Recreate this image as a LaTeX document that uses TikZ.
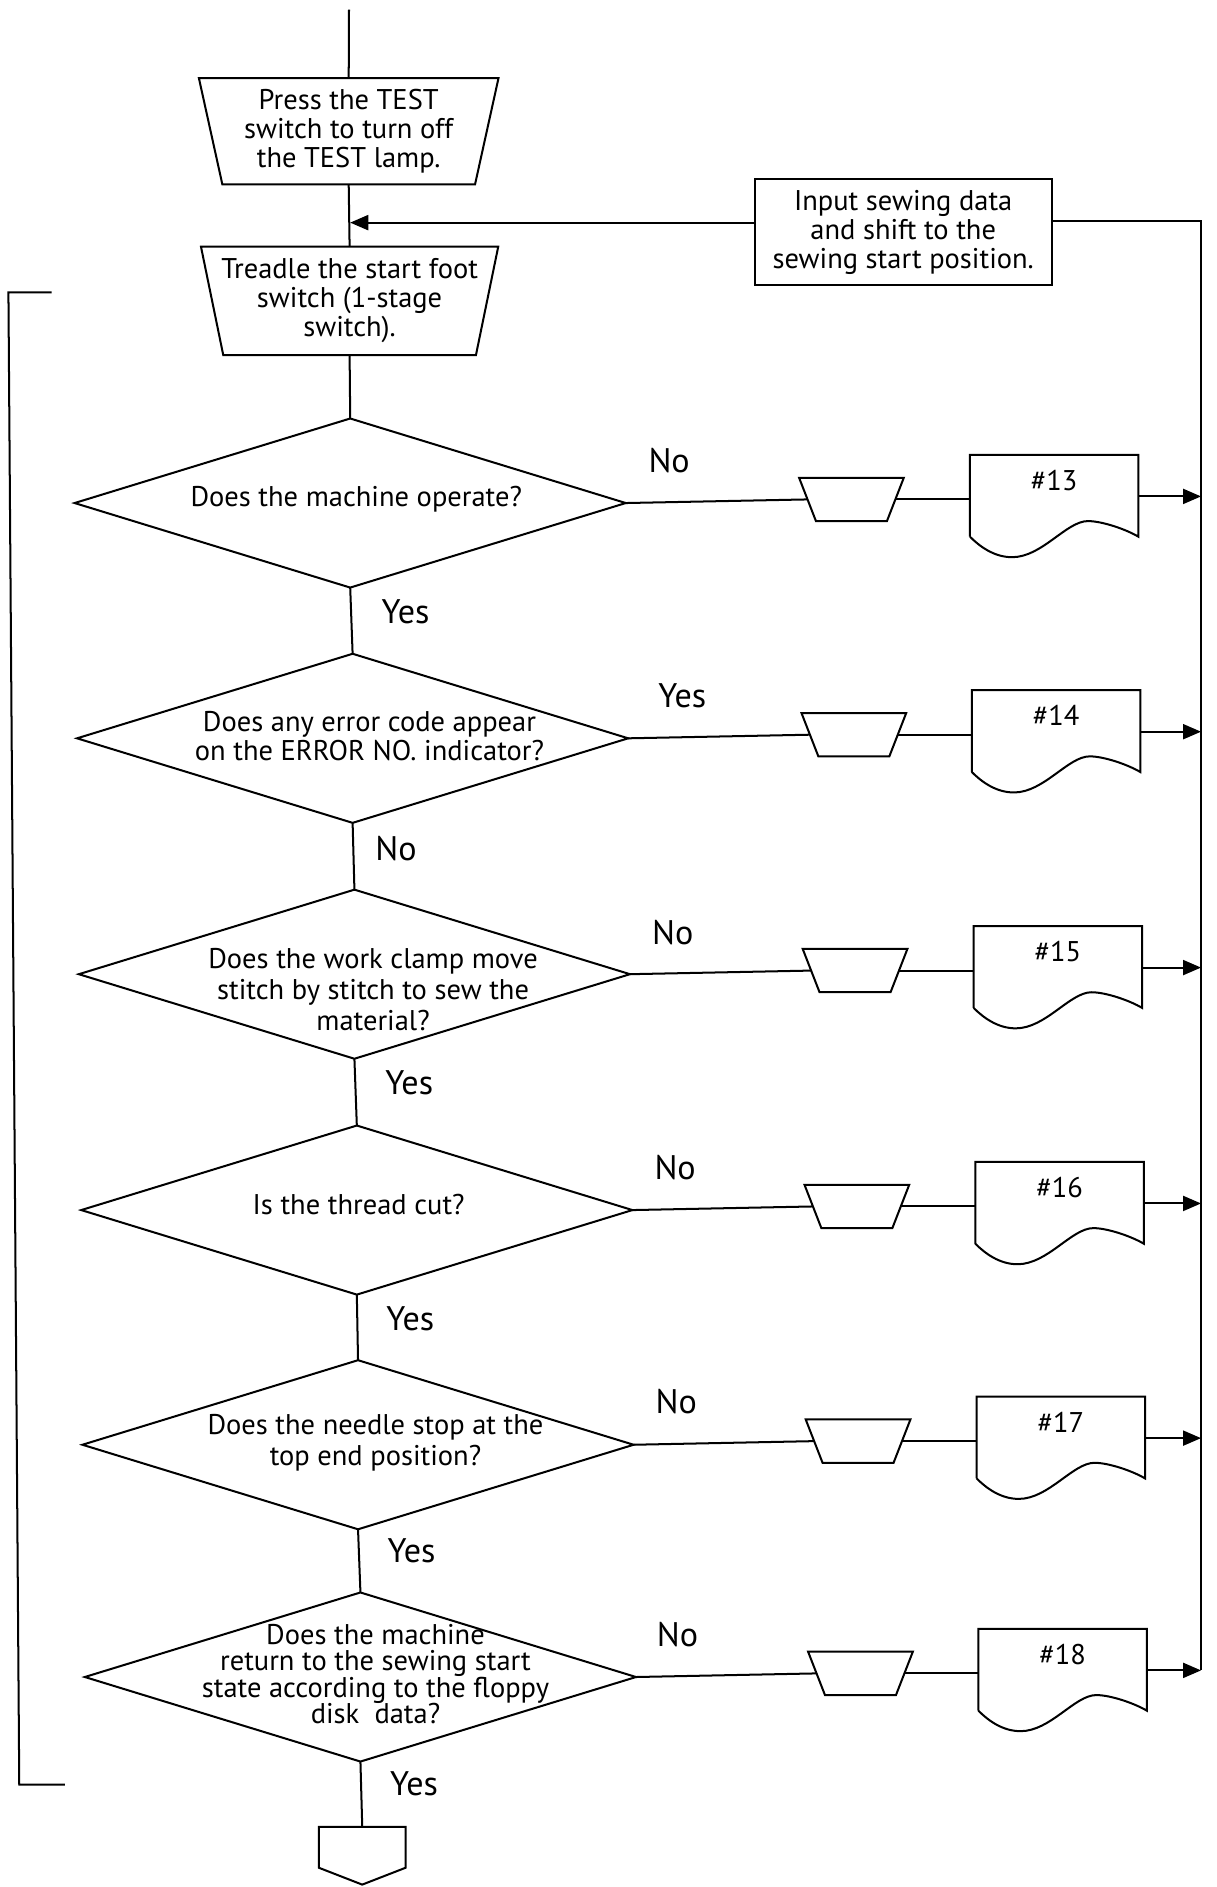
\documentclass[tikz,border=0pt]{standalone}
\usepackage{fontspec}
\setmainfont{PT Sans}
\usetikzlibrary{shapes.geometric,arrows.meta}
\newcommand\trapdraw[2]{\draw (#1.north west) -- (#1.north east) -- ([xshift=-#2]#1.south east) -- ([xshift=#2]#1.south west) -- cycle;}
\begin{document}
\begin{tikzpicture}[x=0.6pt,y=-0.6pt,line width=1pt,
  every node/.style={inner sep=0pt,outer sep=0pt},
  txt/.style={align=center,font=\fontsize{14.2}{14.4}\selectfont},
  lab/.style={font=\fontsize{17}{17}\selectfont},
  dia/.style={draw,diamond,minimum width=274.8pt,minimum height=84.3pt},
  bigtrap/.style={rectangle,minimum width=#1,minimum height=53pt,align=center,
     font=\fontsize{14.2}{14.4}\selectfont},
  smalltrap/.style={rectangle,minimum width=52.2pt,minimum height=21.6pt},
  procbox/.style={draw,rectangle,minimum width=148.2pt,minimum height=52.8pt,align=center,
     font=\fontsize{14.2}{14.4}\selectfont},
  docarea/.style={rectangle,minimum width=84pt,minimum height=40.8pt},
  arr/.style={-{Triangle[length=9pt,width=7.5pt]}}
]
\useasboundingbox (0,0) rectangle (1011,1568);

% top
\coordinate (top) at (290,8);
\node[bigtrap=149.4pt] (tr1) at (289.75,109) {Press the TEST\\switch to turn off\\the TEST lamp.};
\trapdraw{tr1}{11.7pt}
\node[bigtrap=148.2pt,minimum height=54pt] (tr2) at (290.5,250) {Treadle the start foot\\switch (1-stage\\switch).};
\trapdraw{tr2}{11.1pt}
\node[procbox] (in) at (750.5,193) {Input sewing data\\and shift to the\\sewing start position.};
\coordinate (j) at (291,185);
\coordinate (rtop) at (998,184);
\coordinate (rbot) at (998,1388);

\draw (top) -- (tr1.north);
\draw (tr1.south) -- (tr2.north);
\draw[arr] (in.west |- j) -- (j);
\draw (in.east |- rtop) -- (rtop) -- (rbot);

% diamonds
\node[dia] (d1) at (291,418) {};
\node[txt] (d1t) at (296,415) {Does the machine operate?};
\node[dia] (d2) at (293,613.5) {};
\node[txt] (d2t) at (307,612) {Does any error code appear\\on the ERROR NO. indicator?};
\node[dia] (d3) at (294.5,809.5) {};
\node[txt,font=\fontsize{14.2}{15.5}\selectfont] (d3t) at (310,822) {Does the work clamp move\\stitch by stitch to sew the\\material?};
\node[dia] (d4) at (296.5,1005.5) {};
\node[txt] (d4t) at (298,1001) {Is the thread cut?};
\node[dia] (d5) at (297.5,1200.5) {};
\node[txt,font=\fontsize{14.2}{15.5}\selectfont] (d5t) at (312,1199) {Does the needle stop at the\\top end position?};
\node[dia] (d6) at (299.5,1393.5) {};
\node[txt,font=\fontsize{14.2}{13.2}\selectfont] (d6t) at (312,1391) {Does the machine\\return to the sewing start\\state according to the floppy\\disk\ \ data?};

\draw (tr2.south) -- (d1.north);
\draw (d1.south) -- (d2.north);
\draw (d2.south) -- (d3.north);
\draw (d3.south) -- (d4.north);
\draw (d4.south) -- (d5.north);
\draw (d5.south) -- (d6.north);

% vertical labels
\node[lab] (y1) at (337,508) {Yes};
\node[lab] (n2) at (329,705) {No};
\node[lab] (y3) at (340,900) {Yes};
\node[lab] (y4) at (341,1096) {Yes};
\node[lab] (y5) at (342,1289) {Yes};
\node[lab] (y6) at (344,1482) {Yes};

% branches
\foreach \i/\cy/\tx/\dx/\num/\lb/\lx/\ly in {
  1/418/707.5/876/13/No/556/383,
  2/613.5/709.5/877.5/14/Yes/567/578,
  3/809.5/710.5/879/15/No/559/775,
  4/1005.5/712/880.5/16/No/561/970,
  5/1200.5/713/881.5/17/No/562/1165,
  6/1393.5/715/883/18/No/563/1358}{
  \node[smalltrap] (t\i) at (\tx,\cy-3) {};
  \trapdraw{t\i}{8.4pt}
  \node[docarea] (doc\i) at (\dx,\cy-6) {};
  \draw (doc\i.south west) -- (doc\i.north west) -- (doc\i.north east) -- (doc\i.south east)
     .. controls ([xshift=-10*0.6pt,yshift=6*0.6pt]doc\i.south east) and ([xshift=-30*0.6pt,yshift=13*0.6pt]doc\i.south east) .. ([xshift=-42*0.6pt,yshift=13*0.6pt]doc\i.south east)
     .. controls ([xshift=-60*0.6pt,yshift=13*0.6pt]doc\i.south east) and ([xshift=-80*0.6pt,yshift=-17*0.6pt]doc\i.south east) .. ([xshift=-105*0.6pt,yshift=-17*0.6pt]doc\i.south east)
     .. controls ([xshift=-120*0.6pt,yshift=-17*0.6pt]doc\i.south east) and ([xshift=-132*0.6pt,yshift=-8*0.6pt]doc\i.south east) .. (doc\i.south west);
  \node[txt] (n\i) at ([yshift=-21*0.6pt]doc\i.north) {\#\num};
  \node[lab] (l\i) at (\lx,\ly) {\lb};
  \coordinate (r\i) at (998,\cy-5.5);
  \draw (d\i.east) -- ([xshift=4.2pt]t\i.west);
  \draw ([xshift=-4.2pt]t\i.east) -- (t\i.east -| doc\i.west);
  \draw[arr] (doc\i.east |- r\i) -- (r\i);
}

% off-page connector
\coordinate (offtop) at (301,1518);
\draw (d6.south) -- (offtop);
\draw (265,1518) -- (337,1518) -- (337,1552) -- (301,1566) -- (265,1552) -- cycle;

% left bracket
\coordinate (b1) at (43,243);
\coordinate (b2) at (7,243);
\coordinate (b3) at (16,1483);
\coordinate (b4) at (54,1483);
\draw (b1) -- (b2) -- (b3) -- (b4);
\end{tikzpicture}
\end{document}
